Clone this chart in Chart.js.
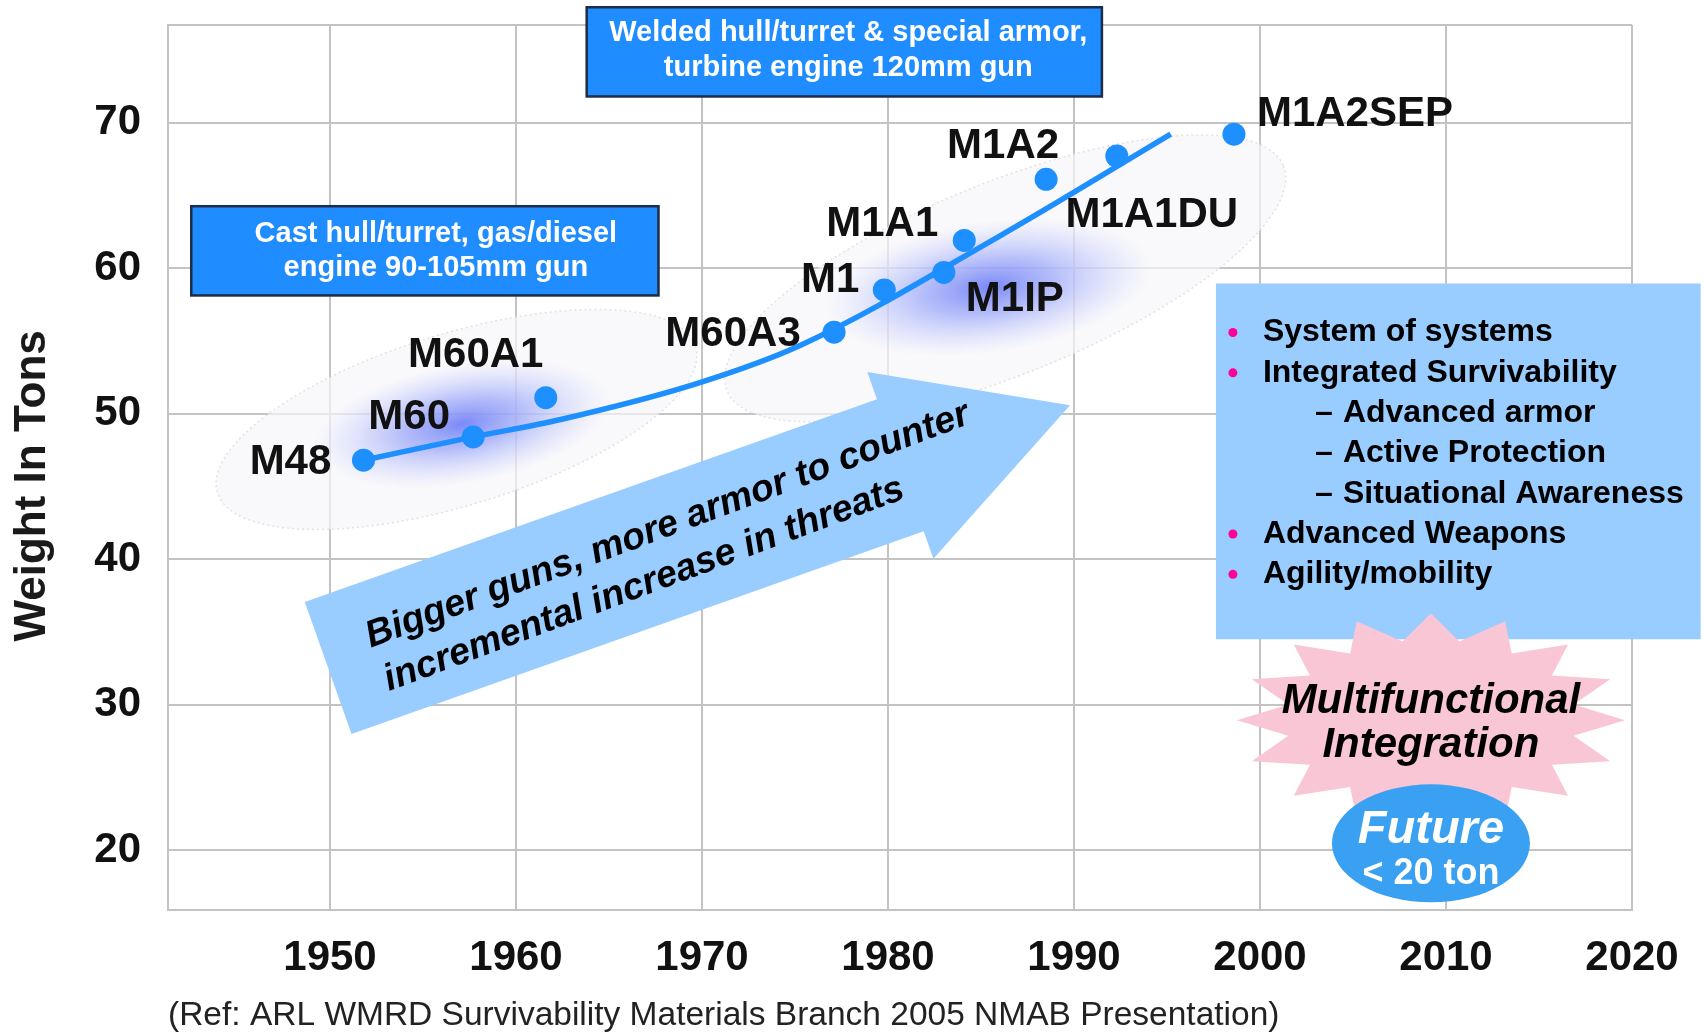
<!DOCTYPE html>
<html>
<head>
<meta charset="utf-8">
<title>Tank weight growth</title>
<script src="https://cdn.jsdelivr.net/npm/chart.js@4.4.1/dist/chart.umd.min.js"></script>
<style>
  html, body { margin: 0; padding: 0; background: #fff; }
  #wrap { width: 1704px; height: 1036px; }
</style>
</head>
<body>
<div id="wrap"><canvas id="chart" width="1704" height="1036"></canvas></div>
<script>
// tanks and their weight in tons
const tankNames = ['M48', 'M60', 'M60A1', 'M60A3', 'M1', 'M1IP', 'M1A1', 'M1A2', 'M1A1DU', 'M1A2SEP'];
const tankYears = [1951.8, 1957.7, 1961.6, 1977.1, 1979.8, 1983.0, 1984.1, 1988.5, 1992.3, 1998.6];
const tankWeights = [46.8, 48.4, 51.1, 55.6, 58.5, 59.7, 61.9, 66.1, 67.7, 69.2];

// the hand drawn trend curve
const trendYears = [1951.8, 1957.7, 1962.4, 1969.8, 1975.3, 1986.0, 1995.2];
const trendWeights = [46.8, 48.4, 49.6, 52.1, 54.7, 62.2, 69.2];

const yearTicks = [1950, 1960, 1970, 1980, 1990, 2000, 2010, 2020];
const weightTicks = [20, 30, 40, 50, 60, 70];

const bulletItems = ['System of systems', 'Integrated Survivability', 'Advanced armor', 'Active Protection',
  'Situational Awareness', 'Advanced Weapons', 'Agility/mobility'];
const bulletLevels = [0, 0, 1, 1, 1, 0, 0];

// ---- layout / styling ----
const FONT = '"Liberation Sans", Arial, Helvetica, sans-serif';
const GRID = '#c3c3c3';
const DOT = '#1e8fff';

// label offset from its point, px
const labelOffsets = {
  M48: [-73, 2], M60: [-64, -20], M60A1: [-70, -42], M60A3: [-101, 2], M1: [-54, -9],
  M1IP: [71, 27], M1A1: [-82, -16], M1A2: [-43, -33], M1A1DU: [35, 59], M1A2SEP: [121, -20]
};

// hazy ellipses and the blue glow inside them (centre in data units)
const clouds = [
  { year: 1956.8, tons: 49.6, rx: 250, ry: 86, rot: -17 },
  { year: 1986.3, tons: 59.3, rx: 300, ry: 96, rot: -22 }
];
const glows = [
  { year: 1957.1, tons: 49.3, rx: 150, ry: 60, rot: -10 },
  { year: 1985.4, tons: 58.7, rx: 165, ry: 66, rot: -8 }
];

const castBox = { x0: 1942.54, x1: 1967.66, y0: 64.25, y1: 58.12, lines: ['Cast hull/turret, gas/diesel', 'engine 90-105mm gun'], dx: 11, ly: [27.5, 61.5] };
const weldBox = { x0: 1963.8, x1: 1991.5, y0: 77.92, y1: 71.79, lines: ['Welded hull/turret & special armor,', 'turbine engine 120mm gun'], dx: 4, ly: [26, 61] };
const listBox = { x0: 1997.63, x1: 2023.69, y0: 58.94, y1: 34.5 };

const trendArrow = { year: 1949.9, tons: 32.53, angle: -19.5, length: 787, headLength: 180, halfBody: 70, halfHead: 99 };
const arrowLines = ['Bigger guns, more armor to counter', 'incremental increase in threats'];

const burst = { year: 2009.19, tons: 28.94, rx: 194, ry: 107, inner: 0.75, points: 16 };
const future = { year: 2009.19, tons: 20.48, rx: 99, ry: 59 };

const rad = d => d * Math.PI / 180;

function drawBox(ctx, x, y, b) {
  const l = x.getPixelForValue(b.x0), r = x.getPixelForValue(b.x1);
  const t = y.getPixelForValue(b.y0), btm = y.getPixelForValue(b.y1);
  ctx.fillStyle = '#1f8cff';
  ctx.fillRect(l, t, r - l, btm - t);
  ctx.strokeStyle = '#1d2c48';
  ctx.lineWidth = 2.5;
  ctx.strokeRect(l, t, r - l, btm - t);
  ctx.fillStyle = '#fff';
  ctx.font = 'bold 29px ' + FONT;
  ctx.textAlign = 'center';
  ctx.textBaseline = 'middle';
  b.lines.forEach((s, i) => ctx.fillText(s, (l + r) / 2 + b.dx, t + b.ly[i]));
}

const decor = {
  id: 'decor',
  beforeDatasetsDraw(chart) {
    const { ctx, chartArea: a, scales: { x, y } } = chart;
    ctx.save();
    // top edge of the frame
    ctx.strokeStyle = GRID;
    ctx.lineWidth = 2;
    ctx.beginPath();
    ctx.moveTo(a.left, a.top);
    ctx.lineTo(a.right, a.top);
    ctx.stroke();

    clouds.forEach(c => {
      ctx.save();
      ctx.translate(x.getPixelForValue(c.year), y.getPixelForValue(c.tons));
      ctx.rotate(rad(c.rot));
      ctx.beginPath();
      ctx.ellipse(0, 0, c.rx, c.ry, 0, 0, Math.PI * 2);
      ctx.fillStyle = 'rgba(246,246,249,0.7)';
      ctx.fill();
      ctx.setLineDash([2, 3]);
      ctx.lineWidth = 1.5;
      ctx.strokeStyle = 'rgba(215,215,220,0.7)';
      ctx.stroke();
      ctx.restore();
    });
    glows.forEach(g => {
      ctx.save();
      ctx.translate(x.getPixelForValue(g.year), y.getPixelForValue(g.tons));
      ctx.rotate(rad(g.rot));
      ctx.scale(1, g.ry / g.rx);
      const grad = ctx.createRadialGradient(0, 0, 0, 0, 0, g.rx);
      grad.addColorStop(0, 'rgba(100,118,246,0.85)');
      grad.addColorStop(0.4, 'rgba(125,140,248,0.55)');
      grad.addColorStop(1, 'rgba(175,185,255,0)');
      ctx.fillStyle = grad;
      ctx.beginPath();
      ctx.arc(0, 0, g.rx, 0, Math.PI * 2);
      ctx.fill();
      ctx.restore();
    });
    ctx.restore();
  },
  afterDatasetsDraw(chart) {
    const { ctx, scales: { x, y } } = chart;
    ctx.save();

    // tank names
    const pts = chart.getDatasetMeta(1).data;
    ctx.font = 'bold 42px ' + FONT;
    ctx.fillStyle = '#111';
    ctx.textAlign = 'center';
    ctx.textBaseline = 'middle';
    tankNames.forEach((n, i) => {
      const o = labelOffsets[n];
      ctx.fillText(n, pts[i].x + o[0], pts[i].y + o[1]);
    });

    // big arrow
    const ar = trendArrow;
    ctx.save();
    ctx.translate(x.getPixelForValue(ar.year), y.getPixelForValue(ar.tons));
    ctx.rotate(rad(ar.angle));
    const hb = ar.length - ar.headLength;
    ctx.beginPath();
    ctx.moveTo(0, -ar.halfBody);
    ctx.lineTo(hb, -ar.halfBody);
    ctx.lineTo(hb, -ar.halfHead);
    ctx.lineTo(ar.length, 0);
    ctx.lineTo(hb, ar.halfHead);
    ctx.lineTo(hb, ar.halfBody);
    ctx.lineTo(0, ar.halfBody);
    ctx.closePath();
    ctx.fillStyle = '#99ccff';
    ctx.fill();
    ctx.rotate(rad(-1));
    ctx.fillStyle = '#000';
    ctx.font = 'italic bold 37.5px ' + FONT;
    ctx.textAlign = 'left';
    ctx.textBaseline = 'alphabetic';
    ctx.fillText(arrowLines[0], 47, -4);
    ctx.fillText(arrowLines[1], 49, 43);
    ctx.restore();

    drawBox(ctx, x, y, castBox);
    drawBox(ctx, x, y, weldBox);

    // list panel
    const l = x.getPixelForValue(listBox.x0), r = x.getPixelForValue(listBox.x1);
    const t = y.getPixelForValue(listBox.y0), b = y.getPixelForValue(listBox.y1);
    ctx.fillStyle = '#99ccff';
    ctx.fillRect(l, t, r - l, b - t);
    ctx.font = 'bold 32px ' + FONT;
    ctx.textBaseline = 'middle';
    ctx.textAlign = 'left';
    bulletItems.forEach((s, i) => {
      const ly = t + 49 + i * 40.3;
      if (bulletLevels[i] === 0) {
        ctx.fillStyle = '#ff0099';
        ctx.beginPath();
        ctx.arc(l + 17, ly, 4.5, 0, Math.PI * 2);
        ctx.fill();
        ctx.fillStyle = '#000';
        ctx.fillText(s, l + 47, ly);
      } else {
        ctx.fillStyle = '#000';
        ctx.fillText('\u2013', l + 99, ly);
        ctx.fillText(s, l + 127, ly);
      }
    });

    // starburst
    const sx = x.getPixelForValue(burst.year), sy = y.getPixelForValue(burst.tons);
    ctx.beginPath();
    for (let k = 0; k < burst.points * 2; k++) {
      const ang = Math.PI * k / burst.points;
      const f = k % 2 === 0 ? 1 : burst.inner;
      const px = sx + Math.sin(ang) * burst.rx * f;
      const py = sy - Math.cos(ang) * burst.ry * f;
      if (k === 0) ctx.moveTo(px, py); else ctx.lineTo(px, py);
    }
    ctx.closePath();
    ctx.fillStyle = '#f8c6d4';
    ctx.fill();
    ctx.fillStyle = '#000';
    ctx.textAlign = 'center';
    ctx.font = 'italic bold 42px ' + FONT;
    ctx.fillText('Multifunctional', sx, sy - 19);
    ctx.fillText('Integration', sx, sy + 25);

    // future bubble
    const fx = x.getPixelForValue(future.year), fy = y.getPixelForValue(future.tons);
    ctx.beginPath();
    ctx.ellipse(fx, fy, future.rx, future.ry, 0, 0, Math.PI * 2);
    ctx.fillStyle = '#3aa0f2';
    ctx.fill();
    ctx.fillStyle = '#fff';
    ctx.font = 'italic bold 47px ' + FONT;
    ctx.fillText('Future', fx, fy - 13);
    ctx.font = 'bold 36px ' + FONT;
    ctx.fillText('< 20 ton', fx, fy + 31);

    ctx.restore();
  }
};

const tickFont = { family: FONT, size: 42, weight: 'bold' };

new Chart(document.getElementById('chart'), {
  type: 'scatter',
  data: {
    datasets: [
      {
        data: trendYears.map((v, i) => ({ x: v, y: trendWeights[i] })),
        showLine: true,
        borderColor: DOT,
        borderWidth: 5.5,
        pointRadius: 0,
        cubicInterpolationMode: 'monotone'
      },
      {
        data: tankYears.map((v, i) => ({ x: v, y: tankWeights[i] })),
        pointRadius: 11.5,
        pointBackgroundColor: DOT,
        pointBorderWidth: 0,
        showLine: false
      }
    ]
  },
  options: {
    responsive: false,
    animation: false,
    devicePixelRatio: 1,
    layout: { padding: { top: 25, right: 72, bottom: 0, left: 0 } },
    plugins: { legend: { display: false }, tooltip: { enabled: false } },
    scales: {
      x: {
        type: 'linear',
        min: 1941.29,
        max: 2020,
        afterBuildTicks: s => { s.ticks = yearTicks.map(v => ({ value: v })); },
        afterFit: s => { s.height = 126; },
        grid: { color: GRID, lineWidth: 2, drawTicks: false },
        border: { color: GRID, width: 2 },
        ticks: { padding: 23, color: '#111', font: tickFont, autoSkip: false, maxRotation: 0, callback: v => String(v) },
        title: {
          display: true,
          text: '(Ref: ARL WMRD Survivability Materials Branch 2005 NMAB Presentation)',
          align: 'start',
          color: '#222',
          font: { family: FONT, size: 33.5 },
          padding: { top: 0, bottom: 0 }
        }
      },
      y: {
        type: 'linear',
        min: 15.9,
        max: 76.7,
        afterBuildTicks: s => { s.ticks = weightTicks.map(v => ({ value: v })); },
        afterFit: s => { s.width = 168; s.paddingTop = 0; s.paddingBottom = 0; },
        grid: { color: GRID, lineWidth: 2, drawTicks: false },
        border: { color: GRID, width: 2 },
        ticks: { padding: 27, color: '#111', font: tickFont, callback: v => String(v) },
        title: {
          display: true,
          text: 'Weight In Tons   ',
          color: '#1a1a1a',
          font: { family: FONT, size: 44, weight: 'bold' },
          padding: { top: 6, bottom: 0 }
        }
      }
    }
  },
  plugins: [decor]
});
</script>
</body>
</html>
